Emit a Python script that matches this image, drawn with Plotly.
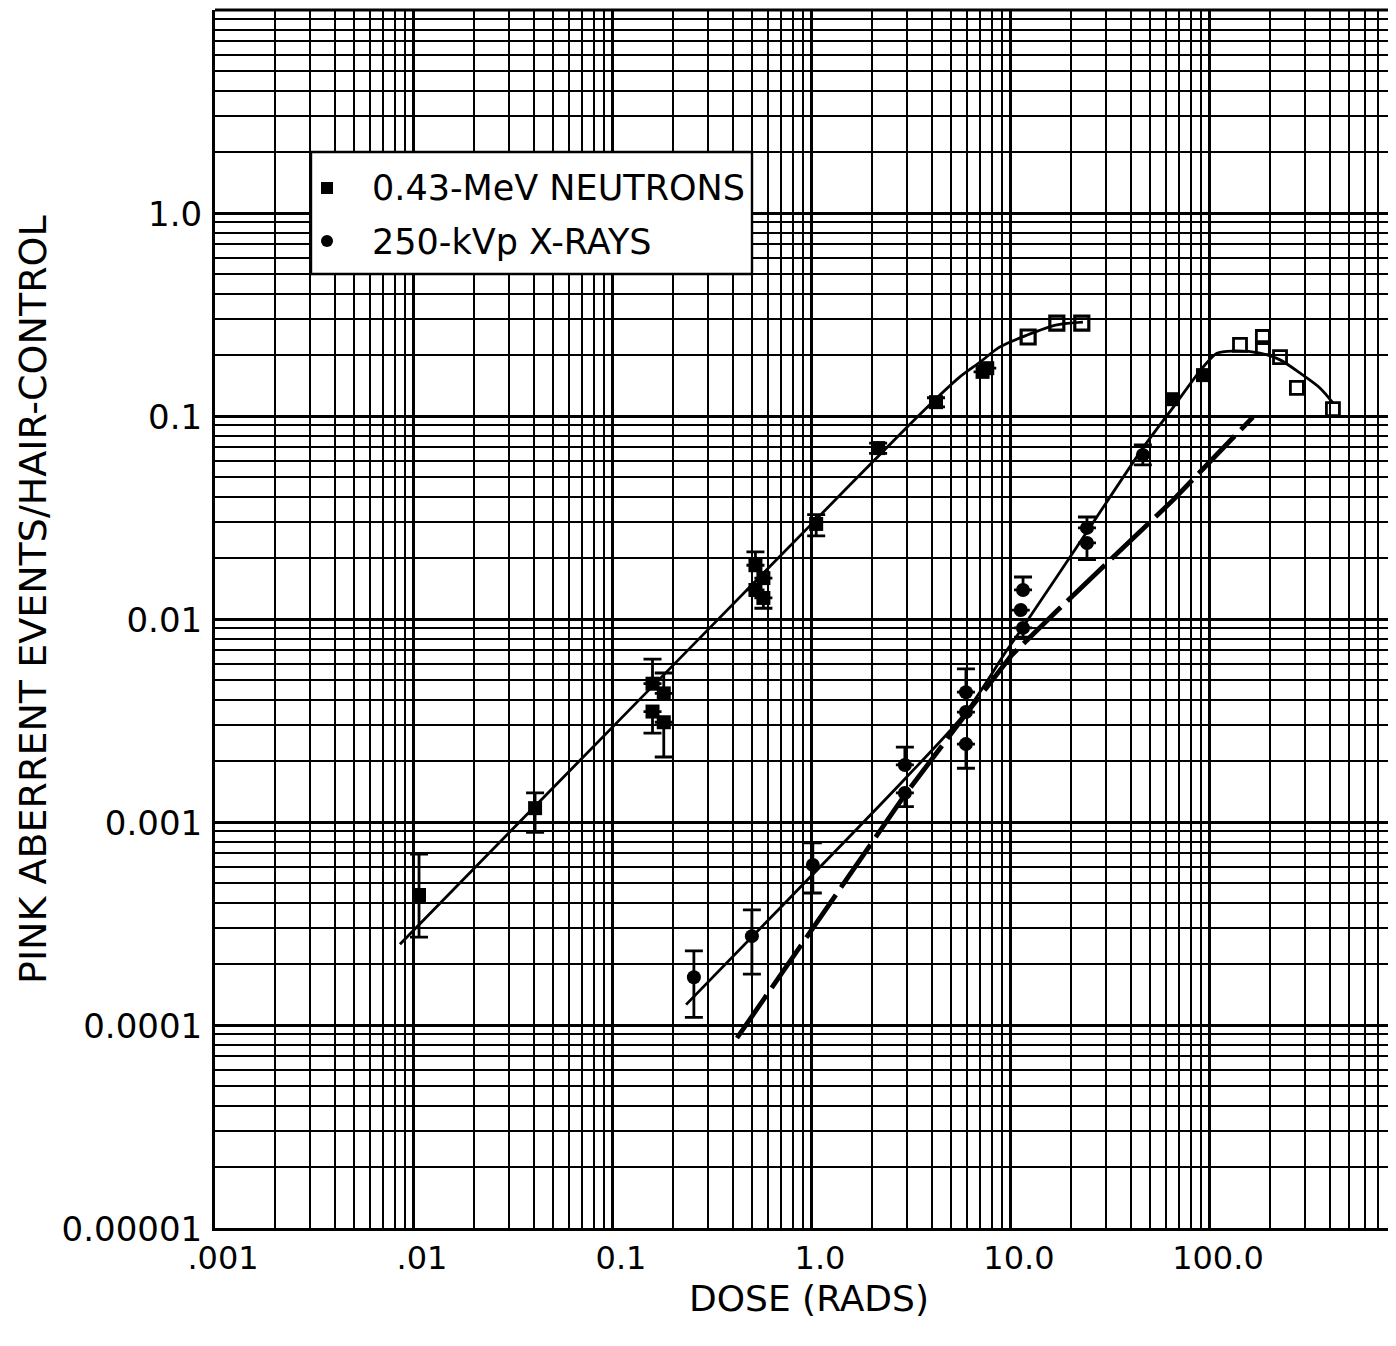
import plotly.graph_objects as go

# ---------------- data ----------------
# 0.43-MeV neutrons, filled squares
neutron_dose = [0.0106, 0.0406, 0.158, 0.158, 0.180, 0.180, 0.52, 0.52, 0.57, 0.57,
                1.05, 2.15, 4.2, 7.2, 7.6]
neutron_value = [0.000437, 0.00117, 0.0048, 0.0035, 0.0043, 0.0031, 0.0184, 0.0139,
                 0.0159, 0.0127, 0.0294, 0.0695, 0.117, 0.165, 0.172]
neutron_err_plus = [0.000258, 0.00022, 0.00155, 0, 0.00112, 0, 0.0030, 0, 0, 0,
                    0.0033, 0.004, 0.006, 0, 0]
neutron_err_minus = [0.000166, 0.00028, 0, 0.00076, 0, 0.00101, 0, 0, 0, 0.0014,
                     0.0037, 0.004, 0.006, 0, 0]
# neutrons, open squares
neutron_open_dose = [12.2, 17.0, 22.7]
neutron_open_value = [0.245, 0.287, 0.287]
# neutron fitted curve
neutron_curve_dose = [0.0085, 0.1, 1.0, 3.0, 4.25, 5.5, 7.0, 8.8, 12.0, 17.0, 23.0]
neutron_curve_value = [0.00025, 0.00295, 0.0295, 0.088, 0.123, 0.155, 0.1845, 0.219,
                       0.25, 0.281, 0.29]

# 250-kVp X-rays, filled circles
xray_dose = [0.255, 0.499, 1.01, 2.93, 2.93, 5.94, 5.94, 5.94, 11.5, 11.2, 11.5,
             24.1, 24.1, 46.0]
xray_value = [0.000172, 0.000274, 0.000614, 0.00191, 0.00139, 0.00436, 0.00348,
              0.00242, 0.0139, 0.01107, 0.00904, 0.0281, 0.0237, 0.0643]
xray_err_plus = [6.0e-5, 9.5e-5, 0.000175, 0.00043, 0, 0.00132, 0, 0, 0.0022, 0, 0,
                 0.0037, 0, 0.0077]
xray_err_minus = [6.3e-5, 9.6e-5, 0.000167, 0, 0.0002, 0, 0, 0.00058, 0, 0, 0.0009,
                  0, 0.0041, 0.0068]
# X-rays, filled squares at high dose
xray_sq_dose = [65.2, 92.3]
xray_sq_value = [0.121, 0.159]
# X-rays, open squares
xray_open_dose = [141.6, 184.5, 184.5, 225.0, 273.5, 415.0]
xray_open_value = [0.224, 0.245, 0.216, 0.195, 0.1375, 0.108]
# X-ray fitted curve (solid)
xray_curve_dose = [0.233, 0.757, 2.93, 5.94, 9.55, 11.3, 24.1, 46.0, 65.2, 92.3,
                   108.4, 130.6, 178.4, 225.0, 283.0, 357.0, 415.0]
xray_curve_value = [0.000126, 0.000413, 0.00163, 0.00348, 0.00703, 0.0089, 0.0269,
                    0.0695, 0.110, 0.174, 0.204, 0.209, 0.204, 0.189, 0.163, 0.1375,
                    0.116]
# X-ray dashed curve
xray_dash_dose = [0.42, 1.12, 2.93, 5.94, 10.1, 17.2, 65.2, 164.4]
xray_dash_value = [8.63e-5, 0.00035, 0.00136, 0.0034, 0.00665, 0.01107, 0.0385, 0.0988]

# axis ticks
x_major = [0.001, 0.01, 0.1, 1.0, 10.0, 100.0]
x_labels = [".001", ".01", "0.1", "1.0", "10.0", "100.0"]
y_major = [0.00001, 0.0001, 0.001, 0.01, 0.1, 1.0, 10.0]
y_labels = ["0.00001", "0.0001", "0.001", "0.01", "0.1", "1.0", ""]
x_minor = [k * d for d in [0.001, 0.01, 0.1, 1.0, 10.0, 100.0] for k in range(2, 10)]
y_minor = [k * d for d in [0.00001, 0.0001, 0.001, 0.01, 0.1, 1.0] for k in range(2, 10)]

legend_labels = ["0.43-MeV NEUTRONS", "250-kVp X-RAYS"]
x_title = "DOSE (RADS)"
y_title = "PINK ABERRENT EVENTS/HAIR-CONTROL"

FONT = "DejaVu Sans"

fig = go.Figure()

# curves
fig.add_trace(go.Scatter(x=neutron_curve_dose, y=neutron_curve_value, mode="lines",
                         line=dict(color="black", width=2.8, shape="spline", smoothing=0.8),
                         hoverinfo="skip"))
fig.add_trace(go.Scatter(x=xray_curve_dose, y=xray_curve_value, mode="lines",
                         line=dict(color="black", width=2.8, shape="spline", smoothing=0.8),
                         hoverinfo="skip"))
fig.add_trace(go.Scatter(x=xray_dash_dose, y=xray_dash_value, mode="lines",
                         line=dict(color="black", width=4.8, dash="52px,9px"),
                         hoverinfo="skip"))

# neutron points
fig.add_trace(go.Scatter(x=neutron_dose, y=neutron_value, mode="markers",
                         marker=dict(symbol="square", size=14, color="black"),
                         error_y=dict(type="data", symmetric=False, array=neutron_err_plus,
                                      arrayminus=neutron_err_minus, color="black",
                                      thickness=2.8, width=9),
                         name=legend_labels[0]))
fig.add_trace(go.Scatter(x=neutron_open_dose, y=neutron_open_value, mode="markers",
                         marker=dict(symbol="square-open", size=14, color="black",
                                     line=dict(width=3.2))))
# x-ray points
fig.add_trace(go.Scatter(x=xray_dose, y=xray_value, mode="markers",
                         marker=dict(symbol="circle", size=14, color="black"),
                         error_y=dict(type="data", symmetric=False, array=xray_err_plus,
                                      arrayminus=xray_err_minus, color="black",
                                      thickness=2.8, width=9),
                         name=legend_labels[1]))
fig.add_trace(go.Scatter(x=xray_sq_dose, y=xray_sq_value, mode="markers",
                         marker=dict(symbol="square", size=14, color="black")))
fig.add_trace(go.Scatter(x=xray_open_dose, y=xray_open_value, mode="markers",
                         marker=dict(symbol="square-open", size=13, color="black",
                                     line=dict(width=2.8))))

# geometry helpers (page pixel -> paper); plot area spans x 215..1396, y 10..1228
def px(x):
    return (x - 215) / 1181.0


def py(y):
    return (1228 - y) / 1218.0


shapes = [
    # top border
    dict(type="line", xref="paper", yref="paper", x0=0, x1=1, y0=1, y1=1,
         line=dict(color="black", width=3), layer="above"),
    # legend box
    dict(type="rect", xref="paper", yref="paper", x0=px(311), x1=px(752),
         y0=py(274), y1=py(152), fillcolor="white",
         line=dict(color="black", width=2.4), layer="above"),
    # legend symbols
    dict(type="rect", xref="paper", yref="paper", x0=px(321), x1=px(333),
         y0=py(194), y1=py(182), fillcolor="black", line=dict(width=0), layer="above"),
    dict(type="circle", xref="paper", yref="paper", x0=px(321), x1=px(333),
         y0=py(247), y1=py(235), fillcolor="black", line=dict(width=0), layer="above"),
]

annotations = [
    dict(text=legend_labels[0], xref="paper", yref="paper", x=px(370), y=py(188),
         xanchor="left", yanchor="middle", showarrow=False,
         font=dict(family=FONT, size=35, color="black")),
    dict(text=legend_labels[1], xref="paper", yref="paper", x=px(370), y=py(242),
         xanchor="left", yanchor="middle", showarrow=False,
         font=dict(family=FONT, size=35, color="black")),
    dict(text=x_title, xref="paper", yref="paper", x=px(809), y=py(1298),
         xanchor="center", yanchor="middle", showarrow=False,
         font=dict(family=FONT, size=36, color="black")),
    dict(text=y_title, xref="paper", yref="paper", x=px(33), y=py(600),
         xanchor="center", yanchor="middle", showarrow=False, textangle=-90,
         font=dict(family=FONT, size=38, color="black")),
]

# the page body has an 8 px margin, so the figure is offset by 8 px
fig.update_layout(
    width=1388, height=1330,
    margin=dict(l=207, r=0, t=2, b=110, pad=0),
    plot_bgcolor="white", paper_bgcolor="white",
    showlegend=False,
    font=dict(family=FONT, color="black", size=35),
    shapes=shapes,
    annotations=annotations,
)
fig.update_xaxes(type="log", range=[-3, 2.935], tickmode="array", tickvals=x_major,
                 ticktext=x_labels, showgrid=True, gridcolor="black", gridwidth=3,
                 minor=dict(tickmode="array", tickvals=x_minor, showgrid=True,
                            gridcolor="black", gridwidth=2.2, ticks=""),
                 showline=True, linecolor="black", linewidth=3, ticks="",
                 zeroline=False, tickfont=dict(family=FONT, size=32, color="black"))
fig.update_yaxes(type="log", range=[-5, 1], tickmode="array", tickvals=y_major,
                 ticktext=y_labels, showgrid=True, gridcolor="black", gridwidth=3,
                 minor=dict(tickmode="array", tickvals=y_minor, showgrid=True,
                            gridcolor="black", gridwidth=2.2, ticks=""),
                 showline=True, linecolor="black", linewidth=3, ticks="",
                 zeroline=False, tickfont=dict(family=FONT, size=34, color="black"))
try:
    fig.update_xaxes(ticklabelstandoff=0, ticklabelshift=8)
except ValueError:
    pass
try:
    fig.update_yaxes(ticklabelstandoff=3, ticklabelshift=1)
except ValueError:
    pass

fig.write_html("out.html")
